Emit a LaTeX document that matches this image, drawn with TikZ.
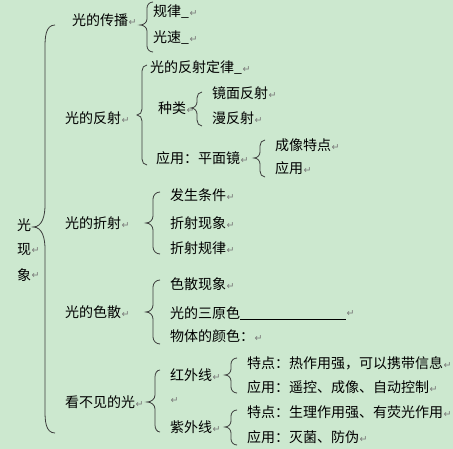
\documentclass[tikz,border=0pt]{standalone}
\usepackage{fontspec}
\newfontfamily\cjk{Noto Sans CJK SC}
\newfontfamily\dvs{DejaVu Sans}
\definecolor{bgcol}{RGB}{204,232,207}
\definecolor{linecol}{RGB}{60,60,60}
\definecolor{markcol}{RGB}{120,120,120}
\newcommand\pmk{\hspace{0.5pt}\textcolor{markcol}{\dvs\fontsize{9.5}{9.5}\selectfont ↵}}
% brace: xe, xl, xt, yt, ym, yb, r
\newcommand\mybrace[7]{%
  \draw[bracestyle] (#1,#4) to[out=180,in=90] (#2,#4+#7) -- (#2,#5-#7)
    to[out=-90,in=0] (#3,#5) to[out=0,in=90] (#2,#5+#7) -- (#2,#6-#7)
    to[out=-90,in=180] (#1,#6);}
\tikzset{
  txt/.style={anchor=west, inner sep=0pt, font=\cjk\fontsize{14}{14}\selectfont},
  bracestyle/.style={draw=linecol, line width=0.8pt},
}
\begin{document}
\begin{tikzpicture}[x=1pt,y=-1pt]
\fill[bgcol] (0,0) rectangle (453,449);
\useasboundingbox (0,0) rectangle (453,449);
% root
\node[txt,anchor=center] (r1) at (24,225) {光};
\node[txt,anchor=center] (r2) at (24,250) {现};
\node[txt,anchor=center] (r3) at (24,275) {象};
\node[anchor=west,inner sep=0pt] (r2m) at (31,251) {\pmk};
\node[anchor=west,inner sep=0pt] (r3m) at (31,276) {\pmk};
\mybrace{55}{45}{33}{25}{227}{433}{22}
% level 1
\node[txt] (a) at (72,20) {光的传播\pmk};
\node[txt] (b) at (65,118) {光的反射\pmk};
\node[txt] (c) at (65,223) {光的折射\pmk};
\node[txt] (d) at (65,312) {光的色散\pmk};
\node[txt] (e) at (65,402) {看不见的光\pmk};
% 传播
\mybrace{153}{147}{140}{2}{25}{52}{6}
\node[txt] (a1) at (153,12) {规律\_\pmk};
\node[txt] (a2) at (153,38) {光速\_\pmk};
% 反射
\mybrace{147}{142}{137}{65}{115}{165}{6}
\node[txt] (b1) at (150,68) {光的反射定律\_\pmk};
\node[txt] (b2) at (158,108) {种类\pmk};
\mybrace{202}{197}{191}{92}{108}{126}{6}
\node[txt] (b21) at (212,93) {镜面反射\pmk};
\node[txt] (b22) at (212,118) {漫反射\pmk};
\node[txt] (b3) at (156,158) {应用：平面镜\pmk};
\mybrace{265}{260}{254}{140}{158}{177}{6}
\node[txt] (b31) at (275,145) {成像特点\pmk};
\node[txt] (b32) at (275,168) {应用\pmk};
% 折射
\mybrace{160}{153}{146}{192}{223}{254}{7}
\node[txt] (c1) at (170,195) {发生条件\pmk};
\node[txt] (c2) at (170,223) {折射现象\pmk};
\node[txt] (c3) at (170,248) {折射规律\pmk};
% 色散
\mybrace{160}{153}{146}{280}{312}{344}{7}
\node[txt] (d1) at (170,284) {色散现象\pmk};
\node[txt] (d2) at (170,313) {光的三原色};
\coordinate (ulA) at (240,319);
\coordinate (ulB) at (346,319);
\draw[line width=0.8pt,black] (ulA) -- (ulB);
\node[anchor=west,inner sep=0pt] (d2m) at (346,314) {\pmk};
\node[txt] (d3) at (170,336) {物体的颜色：\pmk};
% 看不见的光
\mybrace{160}{155}{147}{370}{402}{432}{7}
\node[txt] (e1) at (170,375) {红外线\pmk};
\node[anchor=west,inner sep=0pt] (em) at (170,401) {\pmk};
\node[txt] (e2) at (170,427) {紫外线\pmk};
\mybrace{237}{231}{225}{358}{375}{393}{6}
\node[txt] (e11) at (247,363) {特点：热作用强，可以携带信息\pmk};
\node[txt] (e12) at (247,387) {应用：遥控、成像、自动控制\pmk};
\mybrace{237}{231}{225}{410}{427}{445}{6}
\node[txt] (e21) at (247,412) {特点：生理作用强、有荧光作用\pmk};
\node[txt] (e22) at (247,437) {应用：灭菌、防伪\pmk};
\end{tikzpicture}
\end{document}
